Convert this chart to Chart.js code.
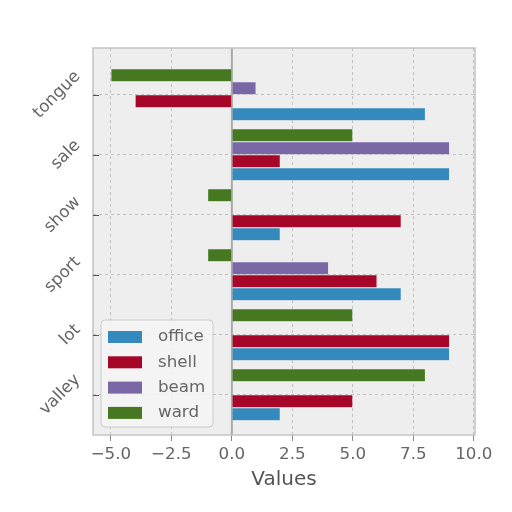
<!DOCTYPE html>
<html><head><meta charset="utf-8">
<script src="https://cdn.jsdelivr.net/npm/chart.js@4.4.1/dist/chart.umd.min.js"></script>
<style>html,body{margin:0;padding:0;background:#fff;}#wrap{width:512px;height:512px;position:relative;}</style>
</head><body><div id="wrap"><canvas id="c" width="512" height="512"></canvas></div>
<script>
const categories = ['tongue', 'sale', 'show', 'sport', 'lot', 'valley'];
const office = [8.0, 9.0, 2.0, 7.0, 9.0, 2.0];
const shell  = [-4.0, 2.0, 7.0, 6.0, 9.0, 5.0];
const beam   = [1.0, 9.0, 0, 4.0, 0, 0];
const ward   = [-5.0, 5.0, -1.0, -1.0, 5.0, 8.0];
const seriesNames = ['office', 'shell', 'beam', 'ward'];
const seriesColors = ['#348ABD', '#A60628', '#7A68A6', '#467821'];
const xTicks = [-5, -2.5, 0, 2.5, 5, 7.5, 10];
const xTitle = 'Values';

const seriesValues = [office, shell, beam, ward];
const FONT = 'DejaVu Sans';
const FS = 16.7;

// draw order within a group (top to bottom): ward, beam, shell, office
const datasets = [3, 2, 1, 0].map(i => ({
  label: seriesNames[i],
  data: seriesValues[i].map((v, j) => ({ x: v, y: j })),
  backgroundColor: seriesColors[i],
  borderColor: '#eeeeee',
  borderWidth: 0.5,
  categoryPercentage: 0.867,
  barPercentage: 1.0
}));

function fmt(v) {
  const s = Math.abs(v).toFixed(1);
  return v < 0 ? '\u2212' + s : s;
}

const decor = {
  id: 'decor',
  beforeDraw(chart) {
    const { ctx, chartArea: a } = chart;
    ctx.save();
    ctx.fillStyle = '#ffffff';
    ctx.fillRect(0, 0, chart.width, chart.height);
    ctx.fillStyle = '#eeeeee';
    ctx.fillRect(a.left, a.top, a.right - a.left, a.bottom - a.top);
    ctx.restore();
  },
  beforeDatasetsDraw(chart) {
    const { ctx, chartArea: a } = chart;
    const x0 = chart.scales.x.getPixelForValue(0);
    ctx.save();
    ctx.strokeStyle = '#a8a8a8';
    ctx.lineWidth = 2;
    ctx.beginPath();
    ctx.moveTo(x0, a.top);
    ctx.lineTo(x0, a.bottom);
    ctx.stroke();
    ctx.restore();
  },
  afterDraw(chart) {
    const { ctx, chartArea: a } = chart;
    const ys = chart.scales.y;
    ctx.save();
    // frame
    ctx.strokeStyle = '#c4c4c4';
    ctx.lineWidth = 1.5;
    ctx.strokeRect(a.left, a.top, a.right - a.left, a.bottom - a.top);
    // y tick marks
    ctx.strokeStyle = '#555555';
    ctx.lineWidth = 1;
    categories.forEach((lab, i) => {
      const y = Math.round(ys.getPixelForValue(i)) + 0.5;
      ctx.beginPath();
      ctx.moveTo(a.left, y);
      ctx.lineTo(a.left + 6, y);
      ctx.stroke();
    });
    // y tick labels rotated 45 degrees, bbox right-aligned and vertically centered
    ctx.font = FS + 'px "' + FONT + '"';
    ctx.fillStyle = '#666666';
    ctx.textAlign = 'center';
    ctx.textBaseline = 'middle';
    categories.forEach((lab, i) => {
      const y = ys.getPixelForValue(i);
      const w = ctx.measureText(lab).width;
      const bw = (w + 12) * Math.SQRT1_2;
      const cx = ys.right - 11 - bw / 2;
      ctx.save();
      ctx.translate(cx, y);
      ctx.rotate(-Math.PI / 4);
      ctx.fillText(lab, 0, 0);
      ctx.restore();
    });
    // legend (lower left)
    const lx = a.left + 8, lw = 112, lh = 107;
    const ly = a.bottom - 8 - lh;
    ctx.fillStyle = 'rgba(244,244,244,0.85)';
    ctx.strokeStyle = '#cccccc';
    ctx.lineWidth = 1;
    ctx.beginPath();
    ctx.roundRect(lx, ly, lw, lh, 4);
    ctx.fill();
    ctx.stroke();
    ctx.textAlign = 'left';
    seriesNames.forEach((name, k) => {
      const cy = ly + 17 + k * 25.3;
      ctx.fillStyle = seriesColors[k];
      ctx.fillRect(lx + 7, cy - 6, 34, 12);
      ctx.fillStyle = '#666666';
      ctx.fillText(name, lx + 57, cy);
    });
    ctx.restore();
  }
};

new Chart(document.getElementById('c'), {
  type: 'bar',
  data: { datasets },
  options: {
    indexAxis: 'y',
    responsive: false,
    animation: false,
    devicePixelRatio: 1,
    layout: { padding: { left: 0, right: 37, top: 48, bottom: 0 } },
    plugins: { legend: { display: false }, tooltip: { enabled: false } },
    scales: {
      x: {
        type: 'linear',
        min: -5.74,
        max: 10.05,
        afterBuildTicks: s => { s.ticks = xTicks.map(v => ({ value: v })); },
        afterFit: s => { s.height = 77; },
        ticks: {
          callback: v => fmt(v),
          font: { family: FONT, size: FS },
          color: '#666666',
          padding: 4,
          maxRotation: 0,
          autoSkip: false
        },
        grid: {
          color: c => (c.tick && c.tick.value === 0) ? 'rgba(0,0,0,0)' : '#c2c2c2',
          lineWidth: 1,
          drawTicks: true,
          tickLength: 6,
          tickColor: '#888888',
          tickWidth: 1,
          tickBorderDash: []
        },
        border: { display: false, dash: [3, 3] },
        title: {
          display: true,
          text: xTitle,
          font: { family: FONT, size: 20 },
          color: '#555555',
          padding: { top: 0, bottom: 20 }
        }
      },
      y: {
        type: 'linear',
        reverse: true,
        offset: false,
        min: -0.78,
        max: 5.67,
        afterBuildTicks: s => { s.ticks = categories.map((_, i) => ({ value: i })); },
        afterFit: s => { s.width = 93; },
        ticks: { display: false },
        grid: { color: '#c2c2c2', lineWidth: 1, drawTicks: false, offset: false },
        border: { display: false, dash: [3, 3] }
      }
    }
  },
  plugins: [decor]
});
</script>
</body></html>
